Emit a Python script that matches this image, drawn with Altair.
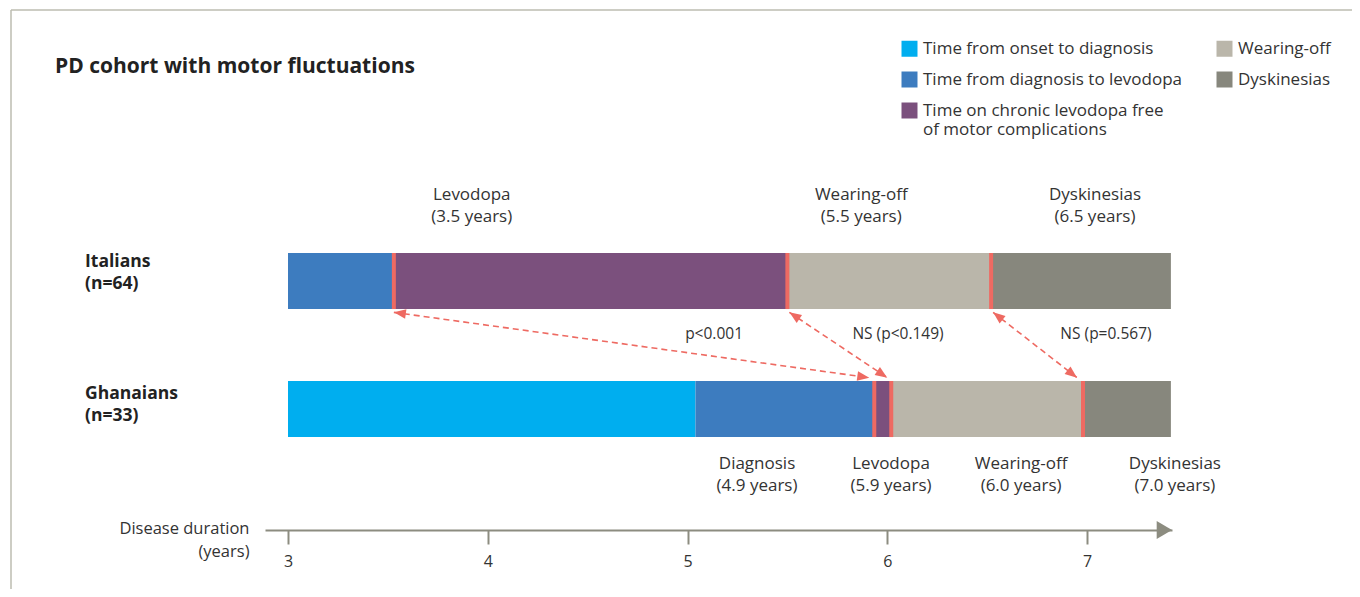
import math
import altair as alt
import pandas as pd

# ---------------- data ----------------
PHASES = [
    "Time from onset to diagnosis",
    "Time from diagnosis to levodopa",
    "Time on chronic levodopa free of motor complications",
    "Wearing-off",
    "Dyskinesias",
]
PHASE_COLORS = ["#00AEEF", "#3D7CBF", "#7B507D", "#BAB6AA", "#87877D"]

COHORTS = ["Italians", "Ghanaians"]
COHORT_N = ["(n=64)", "(n=33)"]

ITALIAN_PHASES = [PHASES[1], PHASES[2], PHASES[3], PHASES[4]]
ITALIAN_START = [3.0, 3.53, 5.50, 6.52]
ITALIAN_END = [3.53, 5.50, 6.52, 7.42]

GHANA_PHASES = PHASES
GHANA_START = [3.0, 5.04, 5.935, 6.02, 6.98]
GHANA_END = [5.04, 5.935, 6.02, 6.98, 7.42]

ITALIAN_MARKERS = [3.53, 5.50, 6.52]
GHANA_MARKERS = [5.935, 6.02, 6.98]

ARROW_FROM = [3.53, 5.51, 6.53]   # Italians end of each comparison
ARROW_TO = [5.91, 6.00, 6.95]     # Ghanaians end
P_LABELS = ["p<0.001", "NS (p<0.149)", "NS (p=0.567)"]

ITALIAN_EVENTS = ["Levodopa", "Wearing-off", "Dyskinesias"]
ITALIAN_EVENT_YEARS = ["3.5", "5.5", "6.5"]
GHANA_EVENTS = ["Diagnosis", "Levodopa", "Wearing-off", "Dyskinesias"]
GHANA_EVENT_YEARS = ["4.9", "5.9", "6.0", "7.0"]

TICKS = [3, 4, 5, 6, 7]

# ---------------- layout (not data) ----------------
W, H = 907, 520
PX_YEAR = 199.75
X0 = 3 - 23 / PX_YEAR
X1 = X0 + W / PX_YEAR
Y0, Y1 = -0.945, 3.117
PX_ROW = H / (Y1 - Y0)
BAR_HALF = 0.219
ARROW_GAP = 0.245
ITALIAN_LABEL_X = [3.92, 5.87, 7.04]
GHANA_LABEL_X = [5.348, 6.019, 6.67, 7.44]
P_LABEL_X = [5.133, 6.054, 7.095]
FONT = "Open Sans"
TXT = "#333333"
RED = "#EE6A62"
AXIS_GRAY = "#8C8C80"

xs = alt.Scale(domain=[X0, X1], nice=False, zero=False)
ys = alt.Scale(domain=[Y0, Y1], nice=False, zero=False)

# ---------------- tables ----------------
seg_rows = []
for ph, s, e in zip(ITALIAN_PHASES, ITALIAN_START, ITALIAN_END):
    seg_rows.append(dict(cohort="Italians", phase=ph, start=s, end=e, row=1))
for ph, s, e in zip(GHANA_PHASES, GHANA_START, GHANA_END):
    seg_rows.append(dict(cohort="Ghanaians", phase=ph, start=s, end=e, row=0))
seg = pd.DataFrame(seg_rows)
seg["y1"] = seg["row"] - BAR_HALF
seg["y2"] = seg["row"] + BAR_HALF

mk = pd.DataFrame(
    [dict(x=v, row=1) for v in ITALIAN_MARKERS] + [dict(x=v, row=0) for v in GHANA_MARKERS]
)
mk["y1"] = mk["row"] - BAR_HALF
mk["y2"] = mk["row"] + BAR_HALF

arr = pd.DataFrame(dict(x1=ARROW_FROM, x2=ARROW_TO))
arr["y1"] = 1 - ARROW_GAP
arr["y2"] = 0 + ARROW_GAP

heads = []
for a, b in zip(ARROW_FROM, ARROW_TO):
    dx = (b - a) * PX_YEAR
    dy = ((1 - ARROW_GAP) - ARROW_GAP) * PX_ROW
    ang_to = math.degrees(math.atan2(dx, -dy)) % 360
    ang_from = math.degrees(math.atan2(-dx, dy)) % 360
    heads.append(dict(x=b, y=ARROW_GAP, angle=ang_to))
    heads.append(dict(x=a, y=1 - ARROW_GAP, angle=ang_from))
heads = pd.DataFrame(heads)

plab = pd.DataFrame(dict(x=P_LABEL_X, text=P_LABELS, y=0.586))

itl = pd.DataFrame(dict(
    x=ITALIAN_LABEL_X,
    text=[f"{e}\n({v} years)" for e, v in zip(ITALIAN_EVENTS, ITALIAN_EVENT_YEARS)],
    y=1.672,
))
ghl = pd.DataFrame(dict(
    x=GHANA_LABEL_X,
    text=[f"{e}\n({v} years)" for e, v in zip(GHANA_EVENTS, GHANA_EVENT_YEARS)],
    y=-0.43,
))
rowlab = pd.DataFrame(dict(
    text=[f"{c}\n{n}" for c, n in zip(COHORTS, COHORT_N)],
    y=[1.148, 0.121],
))

# ---------------- layers ----------------
bars = alt.Chart(seg).mark_rect().encode(
    x=alt.X("start:Q", scale=xs,
            axis=alt.Axis(values=TICKS, title=["Disease duration", "(years)"], grid=False,
                          domainColor=AXIS_GRAY, domainWidth=2, tickColor=AXIS_GRAY, tickWidth=2,
                          tickSize=14, labelFont=FONT, labelFontSize=16, labelColor=TXT,
                          labelPadding=9, titleFont=FONT, titleFontSize=16.5, titleFontWeight="normal",
                          titleColor=TXT, titleAngle=0, titleAlign="right", titleBaseline="alphabetic",
                          titleX=-16, titleY=3, titleLineHeight=23, format="d")),
    x2="end:Q",
    y=alt.Y("y1:Q", scale=ys, axis=None),
    y2="y2:Q",
    color=alt.Color("phase:N",
                    scale=alt.Scale(domain=PHASES, range=PHASE_COLORS),
                    legend=alt.Legend(
                        title=None, orient="none", legendX=636, legendY=30, columns=2,
                        direction="vertical", values=PHASES,
                        symbolType="square", symbolSize=256, symbolStrokeWidth=0,
                        symbolOpacity=1, labelFont=FONT, labelFontSize=17, labelColor=TXT,
                        labelOffset=5, rowPadding=13, columnPadding=33, padding=0, labelLimit=400,
                        labelExpr="datum.label == 'Time on chronic levodopa free of motor complications' ? ['Time on chronic levodopa free', 'of motor complications'] : datum.label",
                    )),
)

markers = alt.Chart(mk).mark_rule(color=RED, strokeWidth=4).encode(
    x=alt.X("x:Q", scale=xs), y=alt.Y("y1:Q", scale=ys), y2="y2:Q"
)

arrows = alt.Chart(arr).mark_rule(color=RED, strokeWidth=1.6, strokeDash=[6, 4]).encode(
    x=alt.X("x1:Q", scale=xs), x2="x2:Q", y=alt.Y("y1:Q", scale=ys), y2="y2:Q"
)

arrowheads = alt.Chart(heads).mark_point(
    shape="M0,0L-0.8,2L0.8,2Z", filled=True, color=RED, opacity=1, size=144, strokeWidth=0
).encode(
    x=alt.X("x:Q", scale=xs), y=alt.Y("y:Q", scale=ys), angle=alt.Angle("angle:Q", scale=None)
)

ptext = alt.Chart(plab).mark_text(font=FONT, fontSize=15.5, color=TXT).encode(
    x=alt.X("x:Q", scale=xs), y=alt.Y("y:Q", scale=ys), text="text:N"
)

it_text = alt.Chart(itl).mark_text(font=FONT, fontSize=17, color=TXT, lineBreak="\n",
                                   lineHeight=22, baseline="middle").encode(
    x=alt.X("x:Q", scale=xs), y=alt.Y("y:Q", scale=ys), text="text:N"
)
gh_text = alt.Chart(ghl).mark_text(font=FONT, fontSize=17, color=TXT, lineBreak="\n",
                                   lineHeight=22, baseline="middle").encode(
    x=alt.X("x:Q", scale=xs), y=alt.Y("y:Q", scale=ys), text="text:N"
)
row_text = alt.Chart(rowlab).mark_text(font=FONT, fontSize=17.5, fontWeight="bold", color="#222222",
                                       lineBreak="\n", lineHeight=22, align="left",
                                       baseline="middle").encode(
    x=alt.value(-180), y=alt.Y("y:Q", scale=ys), text="text:N"
)

title = alt.Chart(pd.DataFrame(dict(t=["PD cohort with motor fluctuations"]))).mark_text(
    font=FONT, fontSize=21, fontWeight="bold", color="#222222", align="left", baseline="alphabetic"
).encode(x=alt.value(-210), y=alt.value(63), text="t:N")

axis_head = alt.Chart(pd.DataFrame(dict(k=[0]))).mark_point(
    shape="M0,0L-1.7,-1L-1.7,1Z", filled=True, color=AXIS_GRAY, opacity=1, size=324, strokeWidth=0
).encode(x=alt.value(W), y=alt.value(H))

frame_top = alt.Chart(pd.DataFrame(dict(k=[0]))).mark_rule(color="#BDBDB0", strokeWidth=1.5).encode(
    x=alt.value(-254), x2=alt.value(1100), y=alt.value(0)
)
frame_left = alt.Chart(pd.DataFrame(dict(k=[0]))).mark_rule(color="#BDBDB0", strokeWidth=1.5).encode(
    x=alt.value(-254), y=alt.value(0), y2=alt.value(600)
)

chart = alt.layer(
    frame_top, frame_left, bars, markers, arrows, arrowheads, ptext, it_text, gh_text,
    row_text, title, axis_head
).properties(
    width=W, height=H,
    autosize=alt.AutoSizeParams(type="none"),
    padding={"left": 257, "top": 2, "right": 180, "bottom": 59},
    background="white",
).configure_view(strokeWidth=0)

chart.save("out.html", embed_options={"renderer": "svg", "actions": False})
